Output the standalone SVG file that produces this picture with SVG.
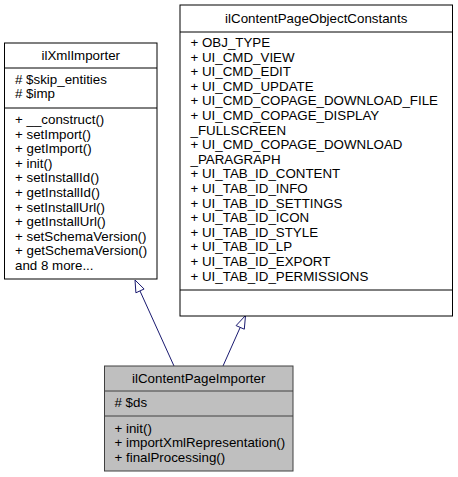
<svg xmlns="http://www.w3.org/2000/svg" width="458" height="477" viewBox="0 0 458 477">
<style>
text{font-family:"Liberation Sans",Arial,Helvetica,sans-serif;font-size:13.33px;fill:#000}
.t{text-anchor:middle}
.box{fill:#fff;stroke:#000;stroke-width:1}
.cur{fill:#bfbfbf;stroke:#404040;stroke-width:1}
.sep{stroke:#000;stroke-width:1}
.sepc{stroke:#404040;stroke-width:1}
.edge{stroke:#191970;stroke-width:1;fill:none}
.head{fill:#fff;stroke:#191970;stroke-width:1}
</style>
<g id="edges">
<path class="edge" d="M174,366 L140,291"/>
<polygon class="head" points="135,280 144.1,289 135.9,292.8"/>
<path class="edge" d="M223,366 L240.2,327.4"/>
<polygon class="head" points="245.5,315.5 244.3,329.2 236.1,325.6"/>
</g>
<g id="ilXmlImporter">
<rect class="box" x="4.5" y="43" width="152.5" height="236"/>
<line class="sep" x1="4.5" y1="68" x2="157" y2="68"/>
<line class="sep" x1="4.5" y1="108" x2="157" y2="108"/>
<text class="t" x="80.75" y="59.5">ilXmlImporter</text>
<text x="15" y="83.5"># $skip_entities</text>
<text x="15" y="98.1"># $imp</text>
<text x="15" y="124">+ __construct()</text>
<text x="15" y="138.6">+ setImport()</text>
<text x="15" y="153.2">+ getImport()</text>
<text x="15" y="167.8">+ init()</text>
<text x="15" y="182.4">+ setInstallId()</text>
<text x="15" y="197">+ getInstallId()</text>
<text x="15" y="211.6">+ setInstallUrl()</text>
<text x="15" y="226.2">+ getInstallUrl()</text>
<text x="15" y="240.8">+ setSchemaVersion()</text>
<text x="15" y="255.4">+ getSchemaVersion()</text>
<text x="15" y="270">and 8 more...</text>
</g>
<g id="ilContentPageObjectConstants">
<rect class="box" x="180" y="5" width="272.5" height="311"/>
<line class="sep" x1="180" y1="32" x2="452.5" y2="32"/>
<line class="sep" x1="180" y1="290" x2="452.5" y2="290"/>
<text class="t" x="316.25" y="22.5">ilContentPageObjectConstants</text>
<text x="190.5" y="47">+ OBJ_TYPE</text>
<text x="190.5" y="61.6">+ UI_CMD_VIEW</text>
<text x="190.5" y="76.2">+ UI_CMD_EDIT</text>
<text x="190.5" y="90.8">+ UI_CMD_UPDATE</text>
<text x="190.5" y="105.4">+ UI_CMD_COPAGE_DOWNLOAD_FILE</text>
<text x="190.5" y="120">+ UI_CMD_COPAGE_DISPLAY</text>
<text x="190.5" y="134.6">_FULLSCREEN</text>
<text x="190.5" y="149.2">+ UI_CMD_COPAGE_DOWNLOAD</text>
<text x="190.5" y="163.8">_PARAGRAPH</text>
<text x="190.5" y="178.4">+ UI_TAB_ID_CONTENT</text>
<text x="190.5" y="193">+ UI_TAB_ID_INFO</text>
<text x="190.5" y="207.6">+ UI_TAB_ID_SETTINGS</text>
<text x="190.5" y="222.2">+ UI_TAB_ID_ICON</text>
<text x="190.5" y="236.8">+ UI_TAB_ID_STYLE</text>
<text x="190.5" y="251.4">+ UI_TAB_ID_LP</text>
<text x="190.5" y="266">+ UI_TAB_ID_EXPORT</text>
<text x="190.5" y="280.6">+ UI_TAB_ID_PERMISSIONS</text>
</g>
<g id="ilContentPageImporter">
<rect class="cur" x="104.5" y="366" width="188.5" height="105"/>
<line class="sepc" x1="104.5" y1="391" x2="293" y2="391"/>
<line class="sepc" x1="104.5" y1="416" x2="293" y2="416"/>
<text class="t" x="198.75" y="382.5">ilContentPageImporter</text>
<text x="114.5" y="407"># $ds</text>
<text x="114.5" y="432.6">+ init()</text>
<text x="114.5" y="447.1">+ importXmlRepresentation()</text>
<text x="114.5" y="461.6">+ finalProcessing()</text>
</g>
</svg>
